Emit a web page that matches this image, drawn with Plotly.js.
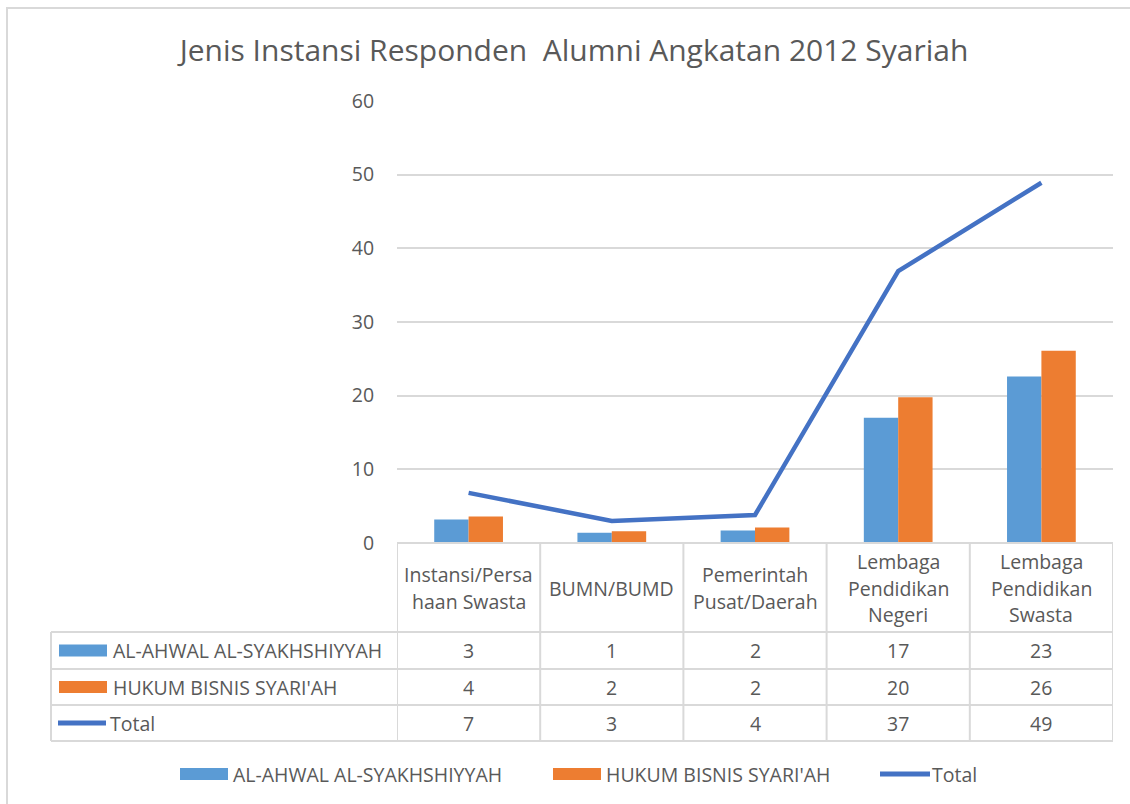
<!DOCTYPE html>
<html>
<head>
<meta charset="utf-8">
<script src="https://cdn.plot.ly/plotly-3.0.1.min.js"></script>
<style>
  html, body { margin: 0; padding: 0; background: #ffffff; }
  #chart { width: 1130px; height: 804px; }
</style>
</head>
<body>
<div id="chart"></div>
<script>
// ---- data ----
const categories = ['Instansi/Persahaan Swasta', 'BUMN/BUMD', 'Pemerintah Pusat/Daerah', 'Lembaga Pendidikan Negeri', 'Lembaga Pendidikan Swasta'];
const categoryLines = [['Instansi/Persa', 'haan Swasta'], ['BUMN/BUMD'], ['Pemerintah', 'Pusat/Daerah'], ['Lembaga', 'Pendidikan', 'Negeri'], ['Lembaga', 'Pendidikan', 'Swasta']];
const seriesNames = ['AL-AHWAL AL-SYAKHSHIYYAH', "HUKUM BISNIS SYARI'AH", 'Total'];
const alAhwal = [3.2, 1.4, 1.7, 17.0, 22.6];
const hukumBisnis = [3.6, 1.6, 2.1, 19.8, 26.1];
const total = [6.8, 3.0, 3.8, 36.9, 48.9];
const yTicks = [0, 10, 20, 30, 40, 50, 60];
const chartTitle = 'Jenis Instansi Responden  Alumni Angkatan 2012 Syariah';

// ---- styling ----
const C_BLUE = '#5B9BD5', C_ORANGE = '#ED7D31', C_LINE = '#4472C4';
const C_TEXT = '#595959', C_GRID = '#D9D9D9';
const FONT = '"Open Sans", "Noto Sans", sans-serif';
const FS = 19.5;

const L = 397, R = 17, T = 101, B = 261, WIDTH = 1130, HEIGHT = 804;
const PW = WIDTH - L - R, PH = HEIGHT - T - B;
const px = p => (p - L) / PW;
const py = p => (T + PH - p) / PH;

const seriesValues = [alAhwal, hukumBisnis, total];
const seriesColors = [C_BLUE, C_ORANGE, C_LINE];

const traces = [
  { type: 'bar', name: seriesNames[0], x: categories, y: alAhwal, marker: { color: C_BLUE }, hoverinfo: 'y+name' },
  { type: 'bar', name: seriesNames[1], x: categories, y: hukumBisnis, marker: { color: C_ORANGE }, hoverinfo: 'y+name' },
  { type: 'scatter', mode: 'lines', name: seriesNames[2], x: categories, y: total,
    line: { color: C_LINE, width: 4.5 }, hoverinfo: 'y+name' }
];

const shapes = [];
const annotations = [];
const gline = (x0, y0, x1, y1, xref) => shapes.push({
  type: 'line', xref: xref || 'paper', yref: 'paper', x0: x0, y0: y0, x1: x1, y1: y1,
  line: { color: C_GRID, width: 2 }, layer: 'above'
});

// outer frame
shapes.push({ type: 'rect', xref: 'paper', yref: 'paper', x0: px(7), x1: px(1140), y0: py(8), y1: py(812),
  line: { color: C_GRID, width: 2 }, fillcolor: 'rgba(0,0,0,0)', layer: 'below' });

// table grid
const rowTop = [543, 632, 669, 705, 741];
gline(0, py(543), 1, py(543));
for (let i = 1; i < rowTop.length; i++) gline(px(51), py(rowTop[i]), 1, py(rowTop[i]));
gline(px(51), py(632), px(51), py(741));
for (let k = 0; k <= categories.length; k++) {
  shapes.push({ type: 'line', xref: 'x', yref: 'paper', x0: k - 0.5, x1: k - 0.5, y0: py(543), y1: py(741),
    line: { color: C_GRID, width: 2 }, layer: 'above' });
}

// header labels
const LINE_H = 26.5;
categories.forEach((c, i) => {
  const lines = categoryLines[i];
  const mid = 588;
  lines.forEach((t, j) => {
    const yc = mid + (j - (lines.length - 1) / 2) * LINE_H;
    annotations.push({ xref: 'x', yref: 'paper', x: c, y: py(yc), text: t, showarrow: false,
      xanchor: 'center', yanchor: 'middle', font: { family: FONT, size: FS, color: C_TEXT } });
  });
});

// data rows
const rowMid = [650.5, 687, 723];
seriesValues.forEach((vals, r) => {
  vals.forEach((v, i) => {
    annotations.push({ xref: 'x', yref: 'paper', x: categories[i], y: py(rowMid[r]), text: String(Math.round(v)),
      showarrow: false, xanchor: 'center', yanchor: 'middle', font: { family: FONT, size: FS, color: C_TEXT } });
  });
  if (r < 2) {
    shapes.push({ type: 'rect', xref: 'paper', yref: 'paper', x0: px(59), x1: px(107), y0: py(rowMid[r] - 6), y1: py(rowMid[r] + 6),
      fillcolor: seriesColors[r], line: { width: 0 }, layer: 'above' });
  } else {
    shapes.push({ type: 'line', xref: 'paper', yref: 'paper', x0: px(58), x1: px(106), y0: py(rowMid[r]), y1: py(rowMid[r]),
      line: { color: seriesColors[r], width: 5 }, layer: 'above' });
  }
  annotations.push({ xref: 'paper', yref: 'paper', x: px(r < 2 ? 111 : 108), y: py(rowMid[r]), text: seriesNames[r],
    showarrow: false, xanchor: 'left', yanchor: 'middle', font: { family: FONT, size: FS, color: C_TEXT } });
});

// bottom legend
const legY = 774;
const legItems = [{ x0: 180, x1: 228, tx: 231 }, { x0: 553, x1: 601, tx: 604 }, { x0: 880, x1: 930, tx: 930 }];
legItems.forEach((it, r) => {
  if (r < 2) {
    shapes.push({ type: 'rect', xref: 'paper', yref: 'paper', x0: px(it.x0), x1: px(it.x1), y0: py(legY - 6), y1: py(legY + 6),
      fillcolor: seriesColors[r], line: { width: 0 }, layer: 'above' });
  } else {
    shapes.push({ type: 'line', xref: 'paper', yref: 'paper', x0: px(it.x0), x1: px(it.x1), y0: py(legY), y1: py(legY),
      line: { color: seriesColors[r], width: 5 }, layer: 'above' });
  }
  annotations.push({ xref: 'paper', yref: 'paper', x: px(it.tx), y: py(legY), text: seriesNames[r],
    showarrow: false, xanchor: 'left', yanchor: 'middle', font: { family: FONT, size: FS, color: C_TEXT } });
});

const layout = {
  width: WIDTH, height: HEIGHT,
  margin: { l: L, r: R, t: T, b: B, pad: 0 },
  paper_bgcolor: '#ffffff', plot_bgcolor: '#ffffff',
  font: { family: FONT, size: FS, color: C_TEXT },
  title: { text: chartTitle, x: 574 / WIDTH, xanchor: 'center', xref: 'container',
    y: 1 - 50 / HEIGHT, yanchor: 'middle', yref: 'container',
    font: { family: FONT, size: 30, color: C_TEXT } },
  showlegend: false,
  barmode: 'group', bargap: 0.52, bargroupgap: 0,
  xaxis: { type: 'category', categoryarray: categories, showticklabels: false, showgrid: false,
    zeroline: false, showline: false, ticks: '', range: [-0.5, 4.5], fixedrange: true },
  yaxis: { range: [0, 60], tickvals: yTicks, ticktext: yTicks.map(String), showgrid: true, gridcolor: C_GRID, gridwidth: 2,
    zeroline: false, showline: false, ticks: 'outside', ticklen: 18, tickcolor: 'rgba(0,0,0,0)',
    tickfont: { family: FONT, size: FS, color: C_TEXT }, fixedrange: true },
  shapes: shapes,
  annotations: annotations
};

Plotly.newPlot('chart', traces, layout, { displayModeBar: false, staticPlot: true });
</script>
</body>
</html>
